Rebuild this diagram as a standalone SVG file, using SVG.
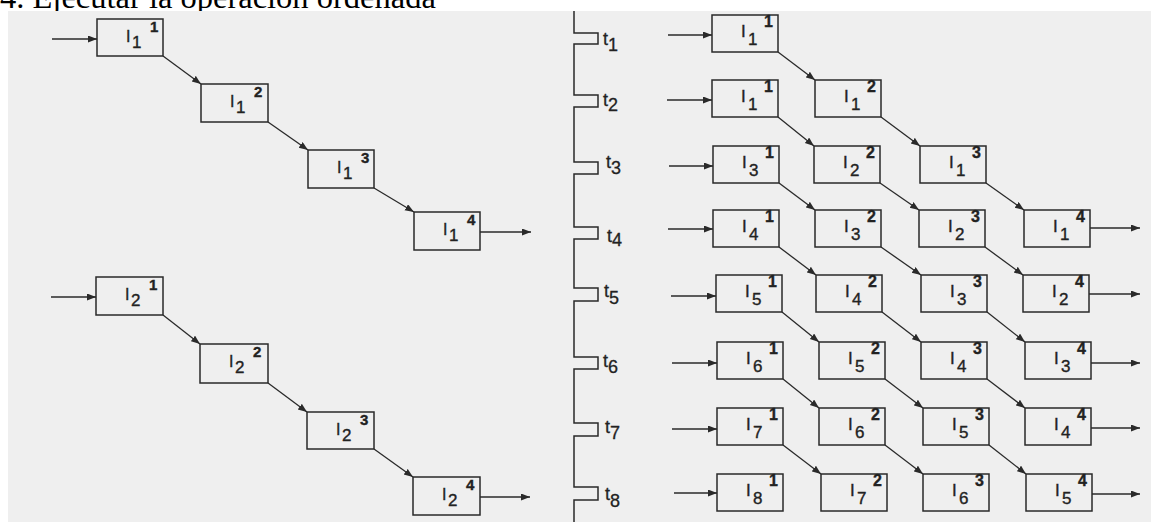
<svg xmlns="http://www.w3.org/2000/svg" width="1151" height="522" viewBox="0 0 1151 522">
  <defs>
    <marker id="arrow" markerUnits="userSpaceOnUse" markerWidth="10" markerHeight="8" refX="9" refY="3.5" orient="auto">
      <path d="M0,0 L9,3.5 L0,7 z" fill="#2a2a2a"/>
    </marker>
    <style>
      .title { font-family: "Liberation Serif", "Times New Roman", serif; font-size: 32.5px; fill: #000; }
      .box { fill: none; stroke: #2a2a2a; stroke-width: 1.5; }
      .wire { fill: none; stroke: #2a2a2a; stroke-width: 1.3; marker-end: url(#arrow); }
      .clock { fill: none; stroke: #2a2a2a; stroke-width: 1.5; }
      .lbl { font-family: "Liberation Sans", Arial, sans-serif; fill: #222; stroke: #222; stroke-width: 0.35; }
      .lbl .m { font-size: 17px; }
      .lbl .s { font-size: 17px; }
      .lbl .p { font-size: 16px; font-weight: bold; }
      .sm .m { font-size: 16px; }
      .sm .s { font-size: 17px; }
      .sm .p { font-size: 15px; }
      .tl { font-family: "Liberation Sans", Arial, sans-serif; font-size: 18px; fill: #222; stroke: #222; stroke-width: 0.3; }
    </style>
  </defs>

  <rect x="0" y="0" width="1151" height="522" fill="#ffffff"/>
  <text class="title" x="0" y="8">4. Ejecutar la operación ordenada</text>
  <!-- scanned sheet -->
  <rect x="8" y="11" width="1143" height="511" fill="#efefef"/>

  <!-- clock signal -->
  <g id="clock">
    <path class="clock" d="M574,11 V33 H598 V44 H574 V95 H598 V107 H574 V162 H598 V174 H574 V227 H598 V239 H574 V288 H598 V301 H574 V357 H598 V369 H574 V423 H598 V436 H574 V487 H598 V500 H574 V522"/>
    <text class="tl" x="603" y="45">t<tspan x="608" y="51">1</tspan></text>
    <text class="tl" x="603" y="106">t<tspan x="608" y="111">2</tspan></text>
    <text class="tl" x="606" y="168">t<tspan x="611" y="174">3</tspan></text>
    <text class="tl" x="607" y="242">t<tspan x="612" y="246">4</tspan></text>
    <text class="tl" x="604" y="297">t<tspan x="609" y="304">5</tspan></text>
    <text class="tl" x="603" y="367">t<tspan x="608" y="373">6</tspan></text>
    <text class="tl" x="605" y="433">t<tspan x="610" y="439">7</tspan></text>
    <text class="tl" x="605" y="500">t<tspan x="610" y="507">8</tspan></text>
  </g>

  <!-- connectors -->
  <g id="connectors">
    <!-- left: instruction 1 -->
    <line class="wire" x1="52" y1="39" x2="97" y2="39"/>
    <line class="wire" x1="163" y1="56" x2="201" y2="84"/>
    <line class="wire" x1="268" y1="122" x2="308" y2="150"/>
    <line class="wire" x1="374" y1="188" x2="414" y2="212"/>
    <line class="wire" x1="480" y1="232" x2="531" y2="232"/>
    <!-- left: instruction 2 -->
    <line class="wire" x1="51" y1="297" x2="96" y2="297"/>
    <line class="wire" x1="163" y1="315" x2="200" y2="344"/>
    <line class="wire" x1="268" y1="383" x2="307" y2="412"/>
    <line class="wire" x1="374" y1="449" x2="413" y2="477"/>
    <line class="wire" x1="480" y1="497" x2="530" y2="497"/>
    <!-- pipeline inputs -->
    <line class="wire" x1="668" y1="35" x2="712" y2="35"/>
    <line class="wire" x1="667" y1="100" x2="712" y2="100"/>
    <line class="wire" x1="669" y1="166" x2="713" y2="166"/>
    <line class="wire" x1="668" y1="229" x2="713" y2="229"/>
    <line class="wire" x1="671" y1="296" x2="716" y2="296"/>
    <line class="wire" x1="672" y1="363" x2="717" y2="363"/>
    <line class="wire" x1="672" y1="429" x2="717" y2="429"/>
    <line class="wire" x1="674" y1="493" x2="717" y2="493"/>
    <!-- pipeline stage transfers -->
    <line class="wire" x1="778" y1="52" x2="815" y2="80"/>
    <line class="wire" x1="778" y1="117" x2="814" y2="146"/>
    <line class="wire" x1="881" y1="117" x2="920" y2="146"/>
    <line class="wire" x1="779" y1="183" x2="815" y2="210"/>
    <line class="wire" x1="880" y1="183" x2="919" y2="210"/>
    <line class="wire" x1="986" y1="183" x2="1024" y2="210"/>
    <line class="wire" x1="779" y1="247" x2="816" y2="275"/>
    <line class="wire" x1="881" y1="247" x2="921" y2="275"/>
    <line class="wire" x1="985" y1="247" x2="1023" y2="275"/>
    <line class="wire" x1="782" y1="312" x2="819" y2="342"/>
    <line class="wire" x1="882" y1="312" x2="921" y2="342"/>
    <line class="wire" x1="987" y1="312" x2="1025" y2="342"/>
    <line class="wire" x1="783" y1="379" x2="819" y2="408"/>
    <line class="wire" x1="885" y1="379" x2="923" y2="408"/>
    <line class="wire" x1="987" y1="379" x2="1025" y2="408"/>
    <line class="wire" x1="783" y1="445" x2="821" y2="474"/>
    <line class="wire" x1="885" y1="445" x2="923" y2="474"/>
    <line class="wire" x1="989" y1="445" x2="1026" y2="474"/>
    <!-- pipeline outputs -->
    <line class="wire" x1="1090" y1="228" x2="1140" y2="228"/>
    <line class="wire" x1="1089" y1="294" x2="1140" y2="294"/>
    <line class="wire" x1="1091" y1="363" x2="1140" y2="363"/>
    <line class="wire" x1="1091" y1="428" x2="1140" y2="428"/>
    <line class="wire" x1="1092" y1="494" x2="1140" y2="494"/>
  </g>

  <!-- sequential execution: instruction 1 -->
  <g id="seq-i1-s1"><rect class="box" x="97" y="19" width="66" height="37"/><text class="lbl sm"><tspan class="m" x="126" y="42">I</tspan><tspan class="s" x="132" y="48">1</tspan><tspan class="p" x="150" y="32">1</tspan></text></g>
  <g id="seq-i1-s2"><rect class="box" x="201" y="84" width="67" height="38"/><text class="lbl sm"><tspan class="m" x="230" y="107">I</tspan><tspan class="s" x="236" y="113">1</tspan><tspan class="p" x="254" y="97">2</tspan></text></g>
  <g id="seq-i1-s3"><rect class="box" x="308" y="150" width="66" height="38"/><text class="lbl sm"><tspan class="m" x="337" y="173">I</tspan><tspan class="s" x="343" y="179">1</tspan><tspan class="p" x="361" y="163">3</tspan></text></g>
  <g id="seq-i1-s4"><rect class="box" x="414" y="212" width="66" height="38"/><text class="lbl sm"><tspan class="m" x="443" y="235">I</tspan><tspan class="s" x="449" y="241">1</tspan><tspan class="p" x="467" y="225">4</tspan></text></g>

  <!-- sequential execution: instruction 2 -->
  <g id="seq-i2-s1"><rect class="box" x="96" y="277" width="67" height="38"/><text class="lbl sm"><tspan class="m" x="125" y="300">I</tspan><tspan class="s" x="131" y="306">2</tspan><tspan class="p" x="149" y="290">1</tspan></text></g>
  <g id="seq-i2-s2"><rect class="box" x="200" y="344" width="68" height="39"/><text class="lbl sm"><tspan class="m" x="229" y="367">I</tspan><tspan class="s" x="235" y="373">2</tspan><tspan class="p" x="253" y="357">2</tspan></text></g>
  <g id="seq-i2-s3"><rect class="box" x="307" y="412" width="67" height="37"/><text class="lbl sm"><tspan class="m" x="336" y="435">I</tspan><tspan class="s" x="342" y="441">2</tspan><tspan class="p" x="360" y="425">3</tspan></text></g>
  <g id="seq-i2-s4"><rect class="box" x="413" y="477" width="67" height="38"/><text class="lbl sm"><tspan class="m" x="442" y="500">I</tspan><tspan class="s" x="448" y="506">2</tspan><tspan class="p" x="466" y="490">4</tspan></text></g>

  <!-- pipelined execution, one row per clock period -->
  <g id="p-r1c1"><rect class="box" x="712" y="15" width="66" height="37"/><text class="lbl"><tspan class="m" x="741" y="37">I</tspan><tspan class="s" x="748" y="45">1</tspan><tspan class="p" x="764" y="27">1</tspan></text></g>

  <g id="p-r2c1"><rect class="box" x="712" y="80" width="66" height="37"/><text class="lbl"><tspan class="m" x="741" y="102">I</tspan><tspan class="s" x="748" y="110">1</tspan><tspan class="p" x="764" y="92">1</tspan></text></g>
  <g id="p-r2c2"><rect class="box" x="815" y="80" width="66" height="37"/><text class="lbl"><tspan class="m" x="844" y="102">I</tspan><tspan class="s" x="851" y="110">1</tspan><tspan class="p" x="867" y="92">2</tspan></text></g>

  <g id="p-r3c1"><rect class="box" x="713" y="146" width="66" height="37"/><text class="lbl"><tspan class="m" x="742" y="168">I</tspan><tspan class="s" x="749" y="176">3</tspan><tspan class="p" x="765" y="158">1</tspan></text></g>
  <g id="p-r3c2"><rect class="box" x="814" y="146" width="66" height="37"/><text class="lbl"><tspan class="m" x="843" y="168">I</tspan><tspan class="s" x="850" y="176">2</tspan><tspan class="p" x="866" y="158">2</tspan></text></g>
  <g id="p-r3c3"><rect class="box" x="920" y="146" width="66" height="37"/><text class="lbl"><tspan class="m" x="949" y="168">I</tspan><tspan class="s" x="956" y="176">1</tspan><tspan class="p" x="972" y="158">3</tspan></text></g>

  <g id="p-r4c1"><rect class="box" x="713" y="210" width="66" height="37"/><text class="lbl"><tspan class="m" x="742" y="232">I</tspan><tspan class="s" x="749" y="240">4</tspan><tspan class="p" x="765" y="222">1</tspan></text></g>
  <g id="p-r4c2"><rect class="box" x="815" y="210" width="66" height="37"/><text class="lbl"><tspan class="m" x="844" y="232">I</tspan><tspan class="s" x="851" y="240">3</tspan><tspan class="p" x="867" y="222">2</tspan></text></g>
  <g id="p-r4c3"><rect class="box" x="919" y="210" width="66" height="37"/><text class="lbl"><tspan class="m" x="948" y="232">I</tspan><tspan class="s" x="955" y="240">2</tspan><tspan class="p" x="971" y="222">3</tspan></text></g>
  <g id="p-r4c4"><rect class="box" x="1024" y="210" width="66" height="37"/><text class="lbl"><tspan class="m" x="1053" y="232">I</tspan><tspan class="s" x="1060" y="240">1</tspan><tspan class="p" x="1076" y="222">4</tspan></text></g>

  <g id="p-r5c1"><rect class="box" x="716" y="275" width="66" height="37"/><text class="lbl"><tspan class="m" x="745" y="297">I</tspan><tspan class="s" x="752" y="305">5</tspan><tspan class="p" x="768" y="287">1</tspan></text></g>
  <g id="p-r5c2"><rect class="box" x="816" y="275" width="66" height="37"/><text class="lbl"><tspan class="m" x="845" y="297">I</tspan><tspan class="s" x="852" y="305">4</tspan><tspan class="p" x="868" y="287">2</tspan></text></g>
  <g id="p-r5c3"><rect class="box" x="921" y="275" width="66" height="37"/><text class="lbl"><tspan class="m" x="950" y="297">I</tspan><tspan class="s" x="957" y="305">3</tspan><tspan class="p" x="973" y="287">3</tspan></text></g>
  <g id="p-r5c4"><rect class="box" x="1023" y="275" width="66" height="37"/><text class="lbl"><tspan class="m" x="1052" y="297">I</tspan><tspan class="s" x="1059" y="305">2</tspan><tspan class="p" x="1075" y="287">4</tspan></text></g>

  <g id="p-r6c1"><rect class="box" x="717" y="342" width="66" height="37"/><text class="lbl"><tspan class="m" x="746" y="364">I</tspan><tspan class="s" x="753" y="372">6</tspan><tspan class="p" x="769" y="354">1</tspan></text></g>
  <g id="p-r6c2"><rect class="box" x="819" y="342" width="66" height="37"/><text class="lbl"><tspan class="m" x="848" y="364">I</tspan><tspan class="s" x="855" y="372">5</tspan><tspan class="p" x="871" y="354">2</tspan></text></g>
  <g id="p-r6c3"><rect class="box" x="921" y="342" width="66" height="37"/><text class="lbl"><tspan class="m" x="950" y="364">I</tspan><tspan class="s" x="957" y="372">4</tspan><tspan class="p" x="973" y="354">3</tspan></text></g>
  <g id="p-r6c4"><rect class="box" x="1025" y="342" width="66" height="37"/><text class="lbl"><tspan class="m" x="1054" y="364">I</tspan><tspan class="s" x="1061" y="372">3</tspan><tspan class="p" x="1077" y="354">4</tspan></text></g>

  <g id="p-r7c1"><rect class="box" x="717" y="408" width="66" height="37"/><text class="lbl"><tspan class="m" x="746" y="430">I</tspan><tspan class="s" x="753" y="438">7</tspan><tspan class="p" x="769" y="420">1</tspan></text></g>
  <g id="p-r7c2"><rect class="box" x="819" y="408" width="66" height="37"/><text class="lbl"><tspan class="m" x="848" y="430">I</tspan><tspan class="s" x="855" y="438">6</tspan><tspan class="p" x="871" y="420">2</tspan></text></g>
  <g id="p-r7c3"><rect class="box" x="923" y="408" width="66" height="37"/><text class="lbl"><tspan class="m" x="952" y="430">I</tspan><tspan class="s" x="959" y="438">5</tspan><tspan class="p" x="975" y="420">3</tspan></text></g>
  <g id="p-r7c4"><rect class="box" x="1025" y="408" width="66" height="37"/><text class="lbl"><tspan class="m" x="1054" y="430">I</tspan><tspan class="s" x="1061" y="438">4</tspan><tspan class="p" x="1077" y="420">4</tspan></text></g>

  <g id="p-r8c1"><rect class="box" x="717" y="474" width="66" height="37"/><text class="lbl"><tspan class="m" x="746" y="496">I</tspan><tspan class="s" x="753" y="504">8</tspan><tspan class="p" x="769" y="486">1</tspan></text></g>
  <g id="p-r8c2"><rect class="box" x="821" y="474" width="66" height="37"/><text class="lbl"><tspan class="m" x="850" y="496">I</tspan><tspan class="s" x="857" y="504">7</tspan><tspan class="p" x="873" y="486">2</tspan></text></g>
  <g id="p-r8c3"><rect class="box" x="923" y="474" width="66" height="37"/><text class="lbl"><tspan class="m" x="952" y="496">I</tspan><tspan class="s" x="959" y="504">6</tspan><tspan class="p" x="975" y="486">3</tspan></text></g>
  <g id="p-r8c4"><rect class="box" x="1026" y="474" width="66" height="37"/><text class="lbl"><tspan class="m" x="1055" y="496">I</tspan><tspan class="s" x="1062" y="504">5</tspan><tspan class="p" x="1078" y="486">4</tspan></text></g>
</svg>
